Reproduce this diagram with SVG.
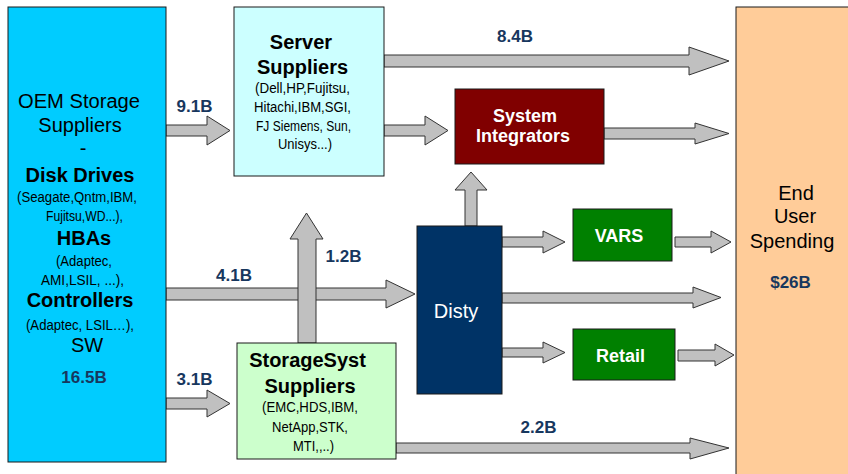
<svg xmlns="http://www.w3.org/2000/svg" width="848" height="474" viewBox="0 0 848 474">
<style>
.box{stroke:#1a1a1a;stroke-width:1}
.arr{fill:#C0C0C0;stroke:#333333;stroke-width:1;stroke-linejoin:miter}
text{font-family:"Liberation Sans",Arial,sans-serif;text-anchor:middle}
.reg{font-size:20px;fill:#000}
.bold{font-size:20px;font-weight:bold;fill:#000}
.nar{font-size:15.5px;fill:#000}
.num{font-size:17px;font-weight:bold;fill:#17375E}
.wb{font-size:18px;font-weight:bold;fill:#fff}
</style>
<rect width="848" height="474" fill="#fff"/>
<g id="connectors">
<polygon class="arr" points="166,125 207,125 207,116 230,130.5 207,145 207,136 166,136"/>
<polygon class="arr" points="166,398 207,398 207,390 230,403.5 207,417 207,409 166,409"/>
<polygon class="arr" points="166,288 386,288 386,280 415,294 386,308 386,300 166,300"/>
<polygon class="arr" points="298,343 298,239 290,239 306.5,213 323,239 316,239 316,343"/>
<polygon class="arr" points="384,55 689,55 689,47 729,61 689,75 689,67 384,67"/>
<polygon class="arr" points="384,125 425,125 425,116 448,130.5 425,145 425,136 384,136"/>
<polygon class="arr" points="604,128 695,128 695,123 729,133.5 695,144 695,139 604,139"/>
<polygon class="arr" points="465,226 465,190 455,190 471,172 487,190 477,190 477,226"/>
<polygon class="arr" points="502,237 543,237 543,231 565,242 543,253 543,247 502,247"/>
<polygon class="arr" points="675,237 711,237 711,231 731,242 711,253 711,247 675,247"/>
<polygon class="arr" points="502,293 693,293 693,287 721,297.5 693,308 693,303 502,303"/>
<polygon class="arr" points="502,348 543,348 543,342 565,352.5 543,363 543,357 502,357"/>
<polygon class="arr" points="678,350 715,350 715,344 734,355 715,366 715,361 678,361"/>
<polygon class="arr" points="396,443 690,443 690,438 729,448 690,459 690,453 396,453"/>
<text class="num" x="194.5" y="112">9.1B</text>
<text class="num" x="234" y="281">4.1B</text>
<text class="num" x="343.5" y="262">1.2B</text>
<text class="num" x="194.5" y="385">3.1B</text>
<text class="num" x="515" y="42">8.4B</text>
<text class="num" x="538.5" y="433">2.2B</text>
</g>
<g id="oem">
<rect class="box" x="8" y="7" width="158" height="455" fill="#00CCFF"/>
<text class="reg" x="79" y="108" textLength="122" lengthAdjust="spacingAndGlyphs">OEM Storage</text>
<text class="reg" x="80" y="132">Suppliers</text>
<text class="reg" x="83" y="155">-</text>
<text class="bold" x="80" y="182">Disk Drives</text>
<text class="nar" x="77" y="202" textLength="120" lengthAdjust="spacingAndGlyphs">(Seagate,Qntm,IBM,</text>
<text class="nar" x="84.5" y="221" textLength="77" lengthAdjust="spacingAndGlyphs">Fujitsu,WD...),</text>
<text class="bold" x="84" y="245">HBAs</text>
<text class="nar" x="84" y="266" textLength="56" lengthAdjust="spacingAndGlyphs">(Adaptec,</text>
<text class="nar" x="82.5" y="285" textLength="83" lengthAdjust="spacingAndGlyphs">AMI,LSIL, ...),</text>
<text class="bold" x="80" y="307">Controllers</text>
<text class="nar" x="80" y="330" textLength="108" lengthAdjust="spacingAndGlyphs">(Adaptec, LSIL…),</text>
<text class="reg" x="87" y="352">SW</text>
<text class="num" x="84" y="383">16.5B</text>
</g>
<g id="server">
<rect class="box" x="234" y="7" width="150" height="169" fill="#CCFFFF"/>
<text class="bold" x="301" y="49">Server</text>
<text class="bold" x="302.5" y="74">Suppliers</text>
<text class="nar" x="302.5" y="93" textLength="95" lengthAdjust="spacingAndGlyphs">(Dell,HP,Fujitsu,</text>
<text class="nar" x="302.5" y="112" textLength="97" lengthAdjust="spacingAndGlyphs">Hitachi,IBM,SGI,</text>
<text class="nar" x="303.5" y="131" textLength="95" lengthAdjust="spacingAndGlyphs">FJ Siemens, Sun,</text>
<text class="nar" x="305" y="149" textLength="54" lengthAdjust="spacingAndGlyphs">Unisys...)</text>
</g>
<g id="storagesyst">
<rect class="box" x="237" y="343" width="159" height="116" fill="#CCFFCC"/>
<text class="bold" x="307.5" y="367">StorageSyst</text>
<text class="bold" x="310" y="393">Suppliers</text>
<text class="nar" x="310" y="412" textLength="96" lengthAdjust="spacingAndGlyphs">(EMC,HDS,IBM,</text>
<text class="nar" x="310" y="432" textLength="76" lengthAdjust="spacingAndGlyphs">NetApp,STK,</text>
<text class="nar" x="313.5" y="451" textLength="41" lengthAdjust="spacingAndGlyphs">MTI,,..)</text>
</g>
<g id="integrators">
<rect class="box" x="455" y="89" width="149" height="75" fill="#800000"/>
<text class="wb" x="525" y="122">System</text>
<text class="wb" x="523" y="142">Integrators</text>
</g>
<g id="disty">
<rect class="box" x="417" y="226" width="85" height="168" fill="#003366"/>
<text class="reg" x="456" y="318" style="fill:#fff">Disty</text>
</g>
<g id="vars">
<rect class="box" x="573" y="209" width="99" height="52" fill="#008000"/>
<text class="wb" x="619" y="242">VARS</text>
</g>
<g id="retail">
<rect class="box" x="573" y="329" width="102" height="51" fill="#008000"/>
<text class="wb" x="620.5" y="362">Retail</text>
</g>
<g id="enduser">
<rect class="box" x="736" y="7" width="120" height="480" fill="#FFCC99"/>
<text class="reg" x="796" y="200">End</text>
<text class="reg" x="795" y="223">User</text>
<text class="reg" x="792" y="248">Spending</text>
<text class="num" x="790.5" y="288">$26B</text>
</g>
</svg>
